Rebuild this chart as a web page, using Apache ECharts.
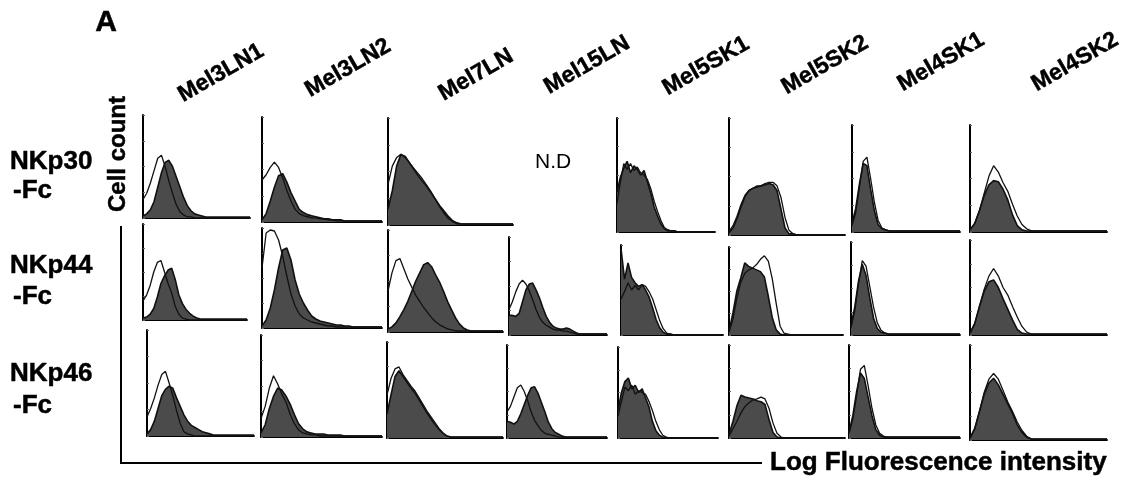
<!DOCTYPE html>
<html><head><meta charset="utf-8">
<script src="https://cdn.jsdelivr.net/npm/echarts@6/dist/echarts.min.js"></script>
<style>html,body{margin:0;padding:0;background:#fff}#c{width:1138px;height:480px}</style>
</head><body><div id="c"></div><script>
// ---------- labels ----------
const receptors = ['NKp30', 'NKp44', 'NKp46'];
const cellLines = ['Mel3LN1', 'Mel3LN2', 'Mel7LN', 'Mel15LN', 'Mel5SK1', 'Mel5SK2', 'Mel4SK1', 'Mel4SK2'];
const bins = ['1','2','3','4','5','6','7','8','9','10','11','12','13','14','15','16','17','18','19','20','21','22','23','24','25','26','27','28','29','30'];

// ---------- histogram values (% of panel height), fc = NKp-Fc stained (filled), ctrl = control (open) ----------
// NKp30-Fc
const p30_Mel3LN1_fc   = [2,4,8,16,30,44,54,56,50,40,30,20,12,7,4,3,2,1,1,1,1,1,1,1,1,1,1,1,1,1];
const p30_Mel3LN1_ctrl = [18,24,34,46,58,61,50,36,24,13,6,3,1,1,0,0,0,0,0,0,0,0,0,0,0,0,0,0,0,0];
const p30_Mel3LN2_fc   = [2,8,20,33,44,46,38,28,20,12,9,7,6,5,4,3,3,2,2,2,1,1,1,1,1,1,1,1,1,1];
const p30_Mel3LN2_ctrl = [40,45,52,57,52,42,30,20,12,8,6,5,4,4,3,3,2,2,1,1,1,1,1,1,1,1,1,1,1,1];
const p30_Mel7LN_fc    = [15,32,55,66,64,58,52,46,41,36,30,24,18,13,8,4,2,1,1,1,1,1,1,1,1,1,1,1,1,1];
const p30_Mel7LN_ctrl  = [38,55,63,66,63,58,53,48,43,37,31,24,17,11,6,3,1,1,1,1,1,1,1,1,1,1,1,1,1,1];
const p30_Mel5SK1_fc   = [35,48,56,62,52,58,55,50,54,44,34,22,14,7,3,1,1,1,0,0,0,0,0,0,0,0,0,0,0,0];
const p30_Mel5SK1_ctrl = [25,44,60,55,60,54,57,52,50,46,38,27,18,10,4,2,1,1,0,0,0,0,0,0,0,0,0,0,0,0];
const p30_Mel5SK2_fc   = [2,6,14,24,33,38,40,41,42,43,44,43,38,22,6,1,1,0,0,0,0,0,0,0,0,0,0,0,0,0];
const p30_Mel5SK2_ctrl = [3,8,16,26,34,38,40,42,42,44,45,45,42,32,15,4,1,0,0,0,0,0,0,0,0,0,0,0,0,0];
const p30_Mel4SK1_fc   = [8,22,45,64,62,40,20,7,3,2,1,1,1,1,1,1,1,1,1,1,1,1,1,1,1,1,1,1,1,1];
const p30_Mel4SK1_ctrl = [6,18,42,66,70,50,28,11,4,2,1,1,1,1,1,1,1,1,1,1,1,1,1,1,1,1,1,1,1,1];
const p30_Mel4SK2_fc   = [2,8,20,34,44,48,47,40,30,16,6,2,1,1,1,1,1,1,1,1,1,1,1,1,1,1,1,1,1,1];
const p30_Mel4SK2_ctrl = [2,8,20,36,52,62,56,46,38,26,15,7,3,1,1,1,1,1,1,1,1,1,1,1,1,1,1,1,1,1];
// NKp44-Fc
const p44_Mel3LN1_fc   = [2,3,6,12,24,38,46,52,54,42,26,17,11,7,4,2,1,1,1,1,1,1,1,1,1,1,1,1,1,1];
const p44_Mel3LN1_ctrl = [20,26,36,50,60,62,50,38,28,14,6,2,1,0,0,0,0,0,0,0,0,0,0,0,0,0,0,0,0,0];
const p44_Mel3LN2_fc   = [2,8,20,38,60,78,80,68,48,34,25,18,12,9,7,6,5,4,3,3,2,2,1,1,1,1,1,1,1,1];
const p44_Mel3LN2_ctrl = [60,95,98,97,88,72,52,34,22,14,10,8,6,5,4,3,2,2,1,1,1,1,1,1,1,1,1,1,1,1];
const p44_Mel7LN_fc    = [3,5,9,15,22,30,40,50,58,66,68,64,56,49,40,30,22,14,8,4,2,1,1,1,1,1,1,1,1,1];
const p44_Mel7LN_ctrl  = [40,58,70,72,62,52,44,36,30,24,19,14,10,7,5,3,2,1,1,1,1,1,1,1,1,1,1,1,1,1];
const p44_Mel15LN_fc   = [20,20,19,22,34,46,52,53,46,38,28,19,13,9,7,6,6,7,6,4,2,1,1,1,1,1,1,1,1,1];
const p44_Mel15LN_ctrl = [26,34,44,52,56,52,45,36,26,18,13,10,8,6,5,5,4,4,3,2,1,1,1,1,1,1,1,1,1,1];
const p44_Mel5SK1_fc   = [96,62,80,64,58,54,56,50,42,30,17,8,3,1,1,0,0,0,0,0,0,0,0,0,0,0,0,0,0,0];
const p44_Mel5SK1_ctrl = [40,48,58,50,55,50,56,54,48,40,28,16,7,2,1,0,0,0,0,0,0,0,0,0,0,0,0,0,0,0];
const p44_Mel5SK2_fc   = [4,25,50,65,82,78,76,74,72,66,44,20,6,1,0,0,0,0,0,0,0,0,0,0,0,0,0,0,0,0];
const p44_Mel5SK2_ctrl = [3,18,42,60,70,74,76,80,86,90,84,64,36,10,2,1,0,0,0,0,0,0,0,0,0,0,0,0,0,0];
const p44_Mel4SK1_fc   = [10,30,58,76,64,40,18,7,3,2,1,1,1,1,1,1,1,1,1,1,1,1,1,1,1,1,1,1,1,1];
const p44_Mel4SK1_ctrl = [8,26,55,80,74,52,30,13,5,2,1,1,1,1,1,1,1,1,1,1,1,1,1,1,1,1,1,1,1,1];
const p44_Mel4SK2_fc   = [2,12,30,46,56,58,50,38,27,16,6,2,1,1,1,1,1,1,1,1,1,1,1,1,1,1,1,1,1,1];
const p44_Mel4SK2_ctrl = [2,12,30,48,62,70,62,50,42,30,19,9,3,1,1,1,1,1,1,1,1,1,1,1,1,1,1,1,1,1];
// NKp46-Fc
const p46_Mel3LN1_fc   = [2,6,14,26,38,44,47,45,36,28,20,14,10,8,6,4,3,2,1,1,1,1,1,1,1,1,1,1,1,1];
const p46_Mel3LN1_ctrl = [18,26,36,48,58,61,50,38,24,12,4,2,1,0,0,0,0,0,0,0,0,0,0,0,0,0,0,0,0,0];
const p46_Mel3LN2_fc   = [4,12,28,40,48,46,40,32,22,13,8,5,4,3,3,3,2,2,2,2,1,1,1,1,1,1,1,1,1,1];
const p46_Mel3LN2_ctrl = [18,30,48,60,52,42,34,22,13,7,4,3,2,2,1,1,1,1,1,1,1,1,1,1,1,1,1,1,1,1];
const p46_Mel7LN_fc    = [25,45,64,70,64,58,52,47,40,33,26,20,14,9,5,2,1,1,1,1,1,1,1,1,1,1,1,1,1,1];
const p46_Mel7LN_ctrl  = [45,62,72,74,66,60,54,49,42,35,28,22,16,10,5,2,1,1,1,1,1,1,1,1,1,1,1,1,1,1];
const p46_Mel15LN_fc   = [18,17,15,18,26,36,46,54,55,48,38,28,17,10,6,4,2,1,1,1,1,1,1,1,1,1,1,1,1,1];
const p46_Mel15LN_ctrl = [28,34,44,54,57,50,40,28,19,13,8,5,4,3,2,1,1,1,1,1,1,1,1,1,1,1,1,1,1,1];
const p46_Mel5SK1_fc   = [30,50,62,66,54,58,50,54,44,34,18,8,3,1,0,0,0,0,0,0,0,0,0,0,0,0,0,0,0,0];
const p46_Mel5SK1_ctrl = [24,40,56,52,58,48,52,50,48,40,30,18,9,3,1,0,0,0,0,0,0,0,0,0,0,0,0,0,0,0];
const p46_Mel5SK2_fc   = [4,18,35,46,44,43,42,40,39,36,20,6,1,0,0,0,0,0,0,0,0,0,0,0,0,0,0,0,0,0];
const p46_Mel5SK2_ctrl = [2,10,18,27,34,38,41,42,44,42,32,16,5,1,0,0,0,0,0,0,0,0,0,0,0,0,0,0,0,0];
const p46_Mel4SK1_fc   = [6,24,50,70,64,44,24,9,3,1,1,1,1,1,1,1,1,1,1,1,1,1,1,1,1,1,1,1,1,1];
const p46_Mel4SK1_ctrl = [5,20,46,74,78,56,32,14,5,2,1,1,1,1,1,1,1,1,1,1,1,1,1,1,1,1,1,1,1,1];
const p46_Mel4SK2_fc   = [2,12,30,48,60,65,58,48,38,28,16,8,3,1,1,1,1,1,1,1,1,1,1,1,1,1,1,1,1,1];
const p46_Mel4SK2_ctrl = [2,12,30,50,64,70,64,52,40,30,19,10,4,1,1,1,1,1,1,1,1,1,1,1,1,1,1,1,1,1];

// which panel holds which data: [row, col, fc, ctrl]
const panelData = [
  [0,0,p30_Mel3LN1_fc,p30_Mel3LN1_ctrl],[0,1,p30_Mel3LN2_fc,p30_Mel3LN2_ctrl],[0,2,p30_Mel7LN_fc,p30_Mel7LN_ctrl],
  [0,4,p30_Mel5SK1_fc,p30_Mel5SK1_ctrl],[0,5,p30_Mel5SK2_fc,p30_Mel5SK2_ctrl],[0,6,p30_Mel4SK1_fc,p30_Mel4SK1_ctrl],[0,7,p30_Mel4SK2_fc,p30_Mel4SK2_ctrl],
  [1,0,p44_Mel3LN1_fc,p44_Mel3LN1_ctrl],[1,1,p44_Mel3LN2_fc,p44_Mel3LN2_ctrl],[1,2,p44_Mel7LN_fc,p44_Mel7LN_ctrl],[1,3,p44_Mel15LN_fc,p44_Mel15LN_ctrl],
  [1,4,p44_Mel5SK1_fc,p44_Mel5SK1_ctrl],[1,5,p44_Mel5SK2_fc,p44_Mel5SK2_ctrl],[1,6,p44_Mel4SK1_fc,p44_Mel4SK1_ctrl],[1,7,p44_Mel4SK2_fc,p44_Mel4SK2_ctrl],
  [2,0,p46_Mel3LN1_fc,p46_Mel3LN1_ctrl],[2,1,p46_Mel3LN2_fc,p46_Mel3LN2_ctrl],[2,2,p46_Mel7LN_fc,p46_Mel7LN_ctrl],[2,3,p46_Mel15LN_fc,p46_Mel15LN_ctrl],
  [2,4,p46_Mel5SK1_fc,p46_Mel5SK1_ctrl],[2,5,p46_Mel5SK2_fc,p46_Mel5SK2_ctrl],[2,6,p46_Mel4SK1_fc,p46_Mel4SK1_ctrl],[2,7,p46_Mel4SK2_fc,p46_Mel4SK2_ctrl]
];

// ---------- layout (pixel boxes: left, right, top, baseline) ----------
const boxes = {
  '0-0':[143,250,115,218], '0-1':[262,382,117,222], '0-2':[388,513,118,225],
  '0-4':[617,715,118,232], '0-5':[729,845,118,235], '0-6':[852,960,125,232], '0-7':[970,1107,125,232],
  '1-0':[143,247,224,320], '1-1':[262,382,228,328], '1-2':[388,503,230,332], '1-3':[509,607,237,335],
  '1-4':[621,723,245,335], '1-5':[729,843,247,335], '1-6':[851,960,242,335], '1-7':[970,1107,240,335],
  '2-0':[147,254,330,436], '2-1':[261,382,335,437], '2-2':[387,503,342,438], '2-3':[507,607,345,438],
  '2-4':[618,718,347,438], '2-5':[729,845,345,438], '2-6':[849,960,345,438], '2-7':[970,1107,345,440]
};
const colLabelPos = [[221,73],[348,68],[476,75],[587,65],[706,66],[825,65],[941,62],[1075,62]];
const rowLabelY = [[162,191],[266,297],[374,406]];

const FONT = '"Liberation Sans", Arial, Helvetica, sans-serif';
const grids = [], xAxes = [], yAxes = [], series = [];
panelData.forEach((p, i) => {
  const [r, c, fc, ctrl] = p;
  const b = boxes[r + '-' + c];
  grids.push({ left: b[0], top: b[2], width: b[1] - b[0], height: b[3] - b[2] });
  xAxes.push({ gridIndex: i, type: 'category', data: bins, boundaryGap: false,
    axisLine: { show: true, onZero: false, lineStyle: { color: '#000', width: 1.8 } },
    axisTick: { show: false }, axisLabel: { show: false }, splitLine: { show: false } });
  yAxes.push({ gridIndex: i, type: 'value', min: 0, max: 100, interval: 25,
    axisLine: { show: true, lineStyle: { color: '#000', width: 2 } },
    axisTick: { show: true, inside: true, length: 2, lineStyle: { color: '#666', width: 1 } },
    axisLabel: { show: false }, splitLine: { show: false } });
  series.push({ type: 'line', xAxisIndex: i, yAxisIndex: i, data: fc, symbol: 'none', z: 2,
    lineStyle: { color: '#111', width: 1.6 }, areaStyle: { color: '#4b4b4b', opacity: 1 }, animation: false });
  series.push({ type: 'line', xAxisIndex: i, yAxisIndex: i, data: ctrl, symbol: 'none', z: 3,
    lineStyle: { color: '#111', width: 1.3 }, animation: false });
});

const bold = (size) => ({ font: 'bold ' + size + 'px ' + FONT, fill: '#000', stroke: '#000', lineWidth: 0.5 });
const graphic = [];
graphic.push({ type: 'text', x: 106, y: 23, style: Object.assign(bold(30), { text: 'A', align: 'center', verticalAlign: 'middle' }) });
cellLines.forEach((name, i) => {
  graphic.push({ type: 'text', x: colLabelPos[i][0], y: colLabelPos[i][1], rotation: Math.PI / 6,
    style: Object.assign(bold(23), { text: name, align: 'center', verticalAlign: 'middle' }) });
});
receptors.forEach((name, i) => {
  graphic.push({ type: 'text', x: 10, y: rowLabelY[i][0], style: Object.assign(bold(26), { text: name, align: 'left', verticalAlign: 'middle' }) });
  graphic.push({ type: 'text', x: 13, y: rowLabelY[i][1], style: Object.assign(bold(26), { text: '-Fc', align: 'left', verticalAlign: 'middle' }) });
});
graphic.push({ type: 'text', x: 118, y: 154, rotation: Math.PI / 2,
  style: Object.assign(bold(24), { text: 'Cell count', align: 'center', verticalAlign: 'middle' }) });
graphic.push({ type: 'text', x: 535, y: 162, style: { text: 'N.D', font: '21px ' + FONT, fill: '#000', align: 'left', verticalAlign: 'middle' } });
graphic.push({ type: 'polyline', shape: { points: [[121, 226], [121, 463], [762, 463]] }, style: { stroke: '#000', lineWidth: 2, fill: null } });
graphic.push({ type: 'text', x: 770, y: 463, style: Object.assign(bold(26), { text: 'Log Fluorescence intensity', align: 'left', verticalAlign: 'middle' }) });

const chart = echarts.init(document.getElementById('c'), null, { renderer: 'canvas' });
chart.setOption({ backgroundColor: '#fff', animation: false, grid: grids, xAxis: xAxes, yAxis: yAxes, series: series, graphic: graphic });
</script></body></html>
